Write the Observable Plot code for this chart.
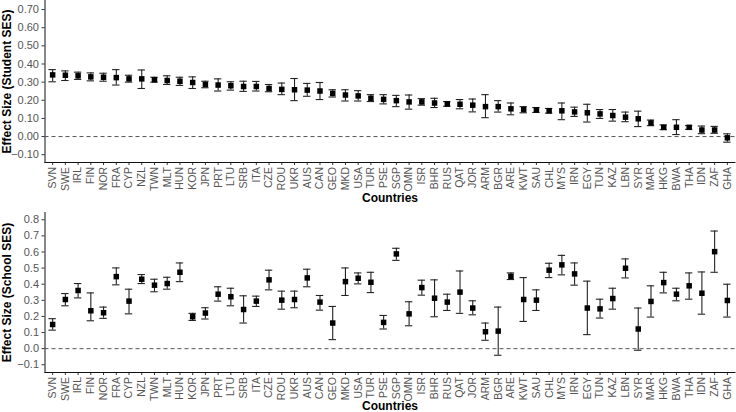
<!DOCTYPE html>
<html>
<head>
<meta charset="utf-8">
<script src="https://cdn.jsdelivr.net/npm/d3@7"></script>
<script src="https://cdn.jsdelivr.net/npm/@observablehq/plot@0.6"></script>
<style>
  body { margin: 0; background: #fff; }
  #chart svg { display: block; }
</style>
</head>
<body>
<div id="chart"></div>
<script>
// Countries, ordered by the student-level SES effect
const countries = ["SVN","SWE","IRL","FIN","NOR","FRA","CYP","NZL","TWN","MLT","HUN","KOR","JPN","PRT","LTU","SRB","ITA","CZE","ROU","UKR","AUS","CAN","GEO","MKD","USA","TUR","PSE","SGP","OMN","ISR","BHR","RUS","QAT","JOR","ARM","BGR","ARE","KWT","SAU","CHL","MYS","IRN","EGY","TUN","KAZ","LBN","SYR","MAR","HKG","BWA","THA","IDN","ZAF","GHA"];

// Student SES: estimate and 95% interval
const studentEst = [0.340,0.338,0.335,0.329,0.327,0.325,0.318,0.318,0.313,0.309,0.305,0.298,0.287,0.284,0.280,0.276,0.276,0.265,0.260,0.258,0.256,0.251,0.238,0.229,0.224,0.211,0.205,0.198,0.191,0.191,0.185,0.180,0.178,0.173,0.165,0.165,0.153,0.149,0.147,0.142,0.142,0.136,0.131,0.125,0.116,0.107,0.098,0.075,0.051,0.051,0.051,0.036,0.036,-0.007];
const studentLo  = [0.302,0.309,0.315,0.307,0.305,0.284,0.300,0.265,0.300,0.287,0.282,0.265,0.269,0.251,0.256,0.249,0.251,0.247,0.231,0.198,0.222,0.204,0.218,0.196,0.196,0.193,0.180,0.165,0.151,0.173,0.160,0.167,0.153,0.136,0.104,0.135,0.120,0.131,0.133,0.129,0.093,0.111,0.080,0.100,0.085,0.082,0.055,0.060,0.038,0.011,0.040,0.016,0.018,-0.031];
const studentHi  = [0.369,0.362,0.355,0.351,0.349,0.369,0.338,0.367,0.327,0.335,0.327,0.329,0.305,0.318,0.302,0.305,0.304,0.287,0.295,0.320,0.293,0.298,0.258,0.258,0.253,0.231,0.231,0.227,0.229,0.209,0.211,0.193,0.204,0.207,0.231,0.198,0.185,0.165,0.160,0.155,0.185,0.162,0.178,0.149,0.149,0.135,0.140,0.091,0.064,0.093,0.060,0.058,0.056,0.015];

// School SES: estimate and 95% interval
const schoolEst = [0.150,0.305,0.361,0.235,0.223,0.447,0.295,0.431,0.394,0.404,0.474,0.198,0.221,0.338,0.322,0.243,0.295,0.427,0.301,0.305,0.439,0.289,0.159,0.416,0.437,0.412,0.163,0.588,0.216,0.379,0.313,0.289,0.351,0.252,0.105,0.109,0.449,0.305,0.301,0.487,0.520,0.464,0.252,0.247,0.311,0.499,0.122,0.293,0.410,0.338,0.390,0.344,0.602,0.299];
const schoolLo  = [0.115,0.266,0.315,0.173,0.188,0.396,0.216,0.404,0.353,0.369,0.416,0.175,0.184,0.295,0.266,0.159,0.262,0.365,0.245,0.254,0.384,0.239,0.056,0.330,0.402,0.348,0.122,0.548,0.142,0.332,0.198,0.237,0.219,0.210,0.052,-0.041,0.429,0.169,0.237,0.441,0.458,0.394,0.087,0.190,0.245,0.439,-0.010,0.196,0.346,0.297,0.307,0.214,0.474,0.196];
const schoolHi  = [0.186,0.342,0.404,0.346,0.258,0.501,0.369,0.460,0.431,0.443,0.532,0.219,0.254,0.384,0.375,0.328,0.326,0.487,0.357,0.357,0.493,0.330,0.262,0.501,0.470,0.474,0.206,0.623,0.291,0.425,0.427,0.338,0.482,0.297,0.159,0.258,0.470,0.441,0.365,0.530,0.579,0.532,0.419,0.307,0.375,0.557,0.252,0.390,0.474,0.375,0.470,0.476,0.730,0.400];

const studentTicks = [-0.1,0,0.1,0.2,0.3,0.4,0.5,0.6,0.7];
const schoolTicks  = [-0.1,0,0.1,0.2,0.3,0.4,0.5,0.6,0.7,0.8];

const font = "'Liberation Sans', Arial, Helvetica, sans-serif";

function panel({est, lo, hi, domain, ticks, fmt, title, height, marginTop, marginBottom, titleOffset}) {
  const rows = countries.map((c, i) => ({country: c, est: est[i], lo: lo[i], hi: hi[i]}));
  return Plot.plot({
    width: 736,
    height,
    marginLeft: 44.5,
    marginRight: 1.5,
    marginTop,
    marginBottom,
    style: {fontFamily: font, fontSize: "11px", color: "#555", background: "#fff", overflow: "visible"},
    x: {type: "band", domain: countries, paddingInner: 0.42, paddingOuter: 0.31},
    y: {domain},
    marks: [
      Plot.axisX({tickRotate: -90, tickSize: 3, tickPadding: 1.5, fontSize: 10.5, label: null, stroke: "#333"}),
      Plot.axisY({ticks, tickFormat: d3.format(fmt), tickSize: 3, tickPadding: 3, fontSize: 11, label: null, stroke: "#333"}),
      Plot.frame({anchor: "left", stroke: "#111"}),
      Plot.frame({anchor: "bottom", stroke: "#111"}),
      Plot.ruleY([0], {stroke: "#555", strokeDasharray: "4,3", strokeWidth: 1}),
      Plot.ruleX(rows, {x: "country", y1: "lo", y2: "hi", stroke: "#222", strokeWidth: 1.1}),
      Plot.tickY(rows, {x: "country", y: "lo", stroke: "#222", strokeWidth: 1.1}),
      Plot.tickY(rows, {x: "country", y: "hi", stroke: "#222", strokeWidth: 1.1}),
      Plot.dot(rows, {x: "country", y: "est", symbol: "square", r: 3.1, fill: "#000", stroke: null}),
      Plot.text([title], {frameAnchor: "left", rotate: -90, dx: -34, text: d => d,
        textAnchor: "middle", lineAnchor: "bottom",
        fontWeight: "bold", fontSize: 12, fill: "#000"}),
      Plot.text(["Countries"], {frameAnchor: "bottom", dy: titleOffset, text: d => d,
        textAnchor: "middle", lineAnchor: "bottom",
        fontWeight: "bold", fontSize: 12, fill: "#000"})
    ]
  });
}

const chart = document.getElementById("chart");
chart.append(panel({
  est: studentEst, lo: studentLo, hi: studentHi,
  domain: [-0.143, 0.75], ticks: studentTicks, fmt: ".2f",
  title: "Effect Size (Student SES)",
  height: 205, marginTop: 0, marginBottom: 43, titleOffset: 39
}));
chart.append(panel({
  est: schoolEst, lo: schoolLo, hi: schoolHi,
  domain: [-0.148, 0.845], ticks: schoolTicks, fmt: ".1f",
  title: "Effect Size (School SES)",
  height: 207, marginTop: 7, marginBottom: 40, titleOffset: 37.5
}));
</script>
</body>
</html>
